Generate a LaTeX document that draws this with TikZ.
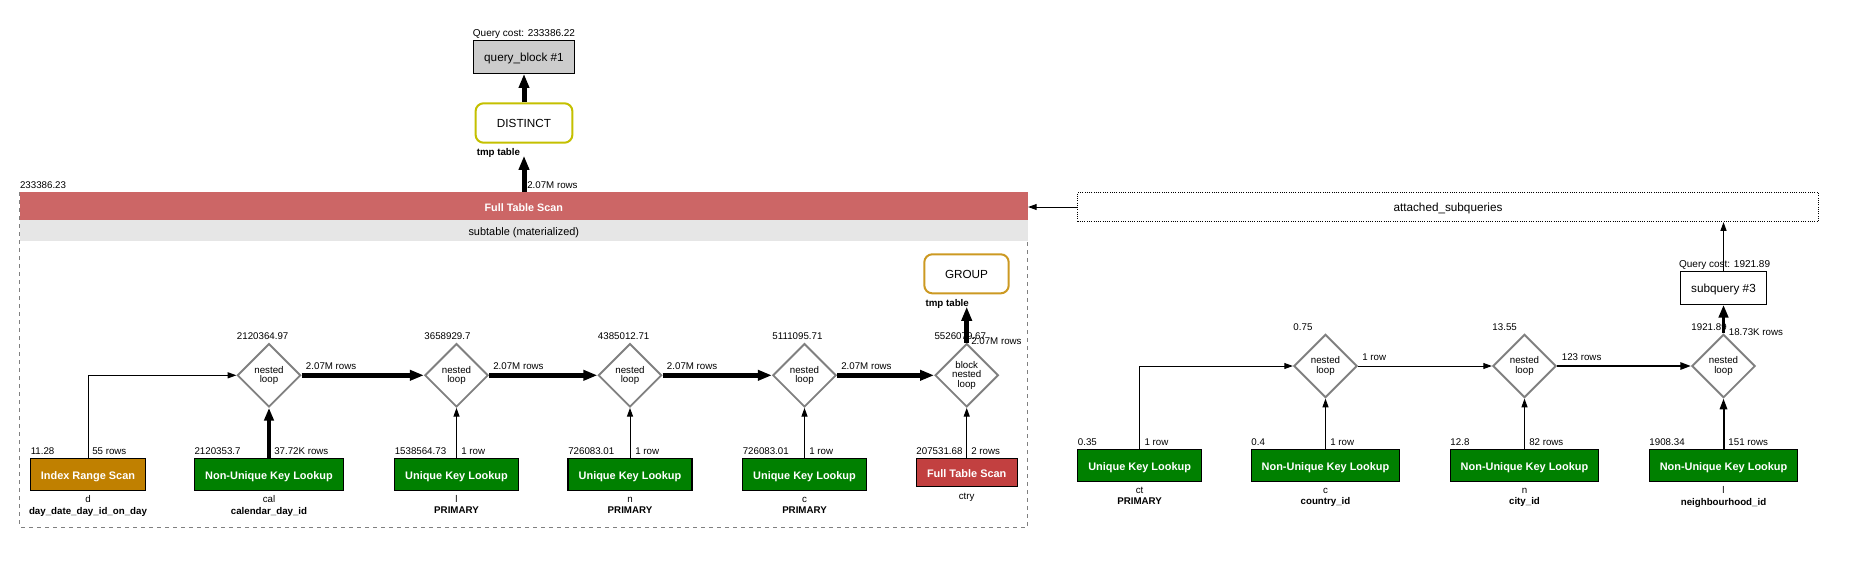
\documentclass[tikz,border=0pt]{standalone}
\usepackage{fontspec}
\setmainfont{Liberation Sans}
\usetikzlibrary{arrows.meta, shapes.geometric}
\definecolor{scanred}{HTML}{CC6666}
\definecolor{leafred}{HTML}{C24040}
\definecolor{leafgreen}{HTML}{008000}
\definecolor{rangegold}{HTML}{C08000}
\definecolor{distinctyel}{HTML}{C4C000}
\definecolor{groupgold}{HTML}{CC9922}
\definecolor{blockgray}{HTML}{CCCCCC}
\definecolor{bandgray}{HTML}{E6E6E6}
\definecolor{joingray}{HTML}{808080}

\begin{document}
\begin{tikzpicture}[x=0.75pt, y=-0.75pt,
  joinop/.style={diamond, draw=joingray, line width=1.4pt, fill=white,
                 minimum width=47.5pt, minimum height=47.5pt, inner sep=0pt,
                 align=center, font=\fontsize{7.3}{7.2}\selectfont},
  leaf/.style={draw=black, line width=0.8pt, text=white, inner sep=0pt,
               minimum height=23.7pt, text height=0.72em, text depth=0pt,
               font=\fontsize{8.2}{9.8}\selectfont\bfseries},
  opbox/.style={rounded corners=6pt, line width=1.5pt, fill=white, inner sep=0pt,
                minimum width=72.6pt, minimum height=29.6pt,
                text height=0.72em, text depth=0pt, font=\fontsize{8.8}{10.5}\selectfont},
  qblock/.style={draw=black, line width=0.8pt, inner sep=0pt, minimum height=24.5pt,
                 text height=0.72em, text depth=0pt, font=\fontsize{8.8}{10.5}\selectfont},
  lbl/.style={inner sep=0pt, text height=0.72em, text depth=0pt,
              font=\fontsize{7.3}{8.8}\selectfont},
  lblbf/.style={lbl, font=\fontsize{7.3}{8.8}\selectfont\bfseries},
  band/.style={inner sep=0pt, minimum width=756pt, text height=0.72em, text depth=0pt},
  flow/.style={line width=0.75pt, -{Triangle[length=6.5pt, width=4.5pt]}},
  flowmid/.style={line width=1.5pt, -{Triangle[length=8pt, width=5.5pt]}},
  flowheavy/.style={line width=2.7pt, -{Triangle[length=9.5pt, width=7pt]}},
  flowhuge/.style={line width=3.75pt, -{Triangle[length=10.5pt, width=7.5pt]}},
]
\useasboundingbox (0,0) rectangle (1858,587);

% main query block
\draw[joingray, dashed, line width=0.6pt] (19.8,192.3) rectangle (1027.8,527);

\node[lbl, font=\fontsize{7.5}{9}\selectfont] (qbcost) at (524,31.7) {Query cost: 233386.22};
\node[qblock, fill=blockgray, minimum width=75.8pt] (qb1) at (524,57) {query\_block \#1};
\node[opbox, draw=distinctyel] (distinct) at (524,123) {DISTINCT};
\node[lblbf, anchor=west] (tmp1) at (476.5,150.7) {tmp table};
\node[lbl, anchor=west] (rows0) at (527,183.3) {2.07M rows};
\node[lbl, anchor=west] (fcost) at (19.8,183.3) {233386.23};

\node[band, fill=scanred, minimum height=20.8pt, text=white,
      font=\fontsize{8.1}{9.7}\selectfont\bfseries] (fts) at (523.8,206.2) {Full Table Scan};
\node[band, fill=bandgray, minimum height=15.5pt,
      font=\fontsize{8.2}{9.8}\selectfont] (subt) at (523.8,230.4) {subtable (materialized)};

\node[opbox, draw=groupgold, minimum width=63.3pt, minimum height=29.3pt] (group) at (966.5,273.8) {GROUP};
\node[lblbf, anchor=west] (tmp2) at (925.3,301.7) {tmp table};

% joins
\node[joinop] (nl1) at (269,375.3) {nested\\loop};
\node[joinop] (nl2) at (456.5,375.3) {nested\\loop};
\node[joinop] (nl3) at (630,375.3) {nested\\loop};
\node[joinop] (nl4) at (804.5,375.3) {nested\\loop};
\node[joinop] (bnl) at (966.7,375.3) {block\\nested\\loop};

\node[lbl, anchor=west] at (236.7,334.3) {2120364.97};
\node[lbl, anchor=west] at (424.2,334.3) {3658929.7};
\node[lbl, anchor=west] at (597.7,334.3) {4385012.71};
\node[lbl, anchor=west] at (772.2,334.3) {5111095.71};
\node[lbl, anchor=west] at (934.3,335) {5526079.67};

\node[lbl, anchor=west] at (305.7,364.3) {2.07M rows};
\node[lbl, anchor=west] at (493,364.3) {2.07M rows};
\node[lbl, anchor=west] at (666.7,364.3) {2.07M rows};
\node[lbl, anchor=west] at (841,364.3) {2.07M rows};
\node[lbl, anchor=west] at (971,339.3) {2.07M rows};

% tables
\node[leaf, fill=rangegold, minimum width=86.3pt] (d) at (88,474.5) {Index Range Scan};
\node[leaf, fill=leafgreen, minimum width=112pt] (cal) at (269,474.5) {Non-Unique Key Lookup};
\node[leaf, fill=leafgreen, minimum width=93pt] (l) at (456.5,474.5) {Unique Key Lookup};
\node[leaf, fill=leafgreen, minimum width=93pt] (n) at (630,474.5) {Unique Key Lookup};
\node[leaf, fill=leafgreen, minimum width=93pt] (c) at (804.5,474.5) {Unique Key Lookup};
\node[leaf, fill=leafred, minimum width=75.8pt, minimum height=20.7pt] (ctry) at (966.7,472.5) {Full Table Scan};

\node[lbl, anchor=west] at (30.5,449.3) {11.28};
\node[lbl, anchor=west] at (92,449.3) {55 rows};
\node[lbl, anchor=west] at (194.3,449.3) {2120353.7};
\node[lbl, anchor=west] at (274,449.3) {37.72K rows};
\node[lbl, anchor=west] at (394.5,449.3) {1538564.73};
\node[lbl, anchor=west] at (461,449.3) {1 row};
\node[lbl, anchor=west] at (568,449.3) {726083.01};
\node[lbl, anchor=west] at (635,449.3) {1 row};
\node[lbl, anchor=west] at (742.5,449.3) {726083.01};
\node[lbl, anchor=west] at (809,449.3) {1 row};
\node[lbl, anchor=west] at (916.2,449.3) {207531.68};
\node[lbl, anchor=west] at (971,449.3) {2 rows};

\node[lbl] at (88,498) {d};
\node[lblbf] at (88,510) {day\_date\_day\_id\_on\_day};
\node[lbl] at (269,498) {cal};
\node[lblbf] at (269,510) {calendar\_day\_id};
\node[lbl] at (456.5,498) {l};
\node[lblbf] at (456.5,509) {PRIMARY};
\node[lbl] at (630,497.5) {n};
\node[lblbf] at (630,508.5) {PRIMARY};
\node[lbl] at (804.5,497.5) {c};
\node[lblbf] at (804.5,508.5) {PRIMARY};
\node[lbl] at (966.7,494.3) {ctry};

% attached subquery
\node[draw, densely dotted, line width=0.7pt, inner sep=0pt, minimum width=555.5pt,
      minimum height=22pt, text height=0.72em, text depth=0pt,
      font=\fontsize{8.8}{10.5}\selectfont] (att) at (1448,207) {attached\_subqueries};

\node[lbl, font=\fontsize{7.5}{9}\selectfont] (sqcost) at (1724.6,262.5) {Query cost: 1921.89};
\node[qblock, fill=white, minimum width=64.5pt, minimum height=25pt] (sq3) at (1723.5,287.7) {subquery \#3};

\node[joinop] (nlA) at (1325.5,366) {nested\\loop};
\node[joinop] (nlB) at (1524.5,366) {nested\\loop};
\node[joinop] (nlC) at (1723.5,366) {nested\\loop};

\node[lbl, anchor=west] at (1293.2,325.7) {0.75};
\node[lbl, anchor=west] at (1492.2,325.7) {13.55};
\node[lbl, anchor=west] at (1691.2,325.7) {1921.89};
\node[lbl, anchor=west] at (1728.6,330.3) {18.73K rows};
\node[lbl, anchor=west] at (1362,355.7) {1 row};
\node[lbl, anchor=west] at (1561.6,355.7) {123 rows};

\node[leaf, fill=leafgreen, minimum width=93pt, minimum height=24.3pt] (ct) at (1139.6,465.5) {Unique Key Lookup};
\node[leaf, fill=leafgreen, minimum width=111.5pt, minimum height=24.3pt] (c2) at (1325.5,465.5) {Non-Unique Key Lookup};
\node[leaf, fill=leafgreen, minimum width=111.5pt, minimum height=24.3pt] (n2) at (1524.5,465.5) {Non-Unique Key Lookup};
\node[leaf, fill=leafgreen, minimum width=111.5pt, minimum height=24.3pt] (l2) at (1723.5,465.5) {Non-Unique Key Lookup};

\node[lbl, anchor=west] at (1077.6,440.3) {0.35};
\node[lbl, anchor=west] at (1144.3,440.3) {1 row};
\node[lbl, anchor=west] at (1251.2,440.3) {0.4};
\node[lbl, anchor=west] at (1330,440.3) {1 row};
\node[lbl, anchor=west] at (1450.2,440.3) {12.8};
\node[lbl, anchor=west] at (1529,440.3) {82 rows};
\node[lbl, anchor=west] at (1649.2,440.3) {1908.34};
\node[lbl, anchor=west] at (1728.2,440.3) {151 rows};

\node[lbl] at (1139.6,489) {ct};
\node[lblbf] at (1139.6,500) {PRIMARY};
\node[lbl] at (1325.5,488.5) {c};
\node[lblbf] at (1325.5,500) {country\_id};
\node[lbl] at (1524.5,488.5) {n};
\node[lblbf] at (1524.5,500) {city\_id};
\node[lbl] at (1723.5,489) {l};
\node[lblbf] at (1723.5,500.5) {neighbourhood\_id};

% connectors
\draw[flowhuge] (distinct.north) -- (qb1.south);
\draw[flowhuge] (fts.north -| distinct.south) -- (distinct.south |- tmp1.south);
\draw[flow] (att.west) -- (att.west -| fts.east);

\draw[flow] (d.north) |- (nl1.west);
\draw[flowheavy] (cal.north) -- (nl1.south);
\draw[flow] (l.north) -- (nl2.south);
\draw[flow] (n.north) -- (nl3.south);
\draw[flow] (c.north) -- (nl4.south);
\draw[flow] (ctry.north) -- (bnl.south);
\draw[flowhuge] (nl1.east) -- (nl2.west);
\draw[flowhuge] (nl2.east) -- (nl3.west);
\draw[flowhuge] (nl3.east) -- (nl4.west);
\draw[flowhuge] (nl4.east) -- (bnl.west);
\draw[flowhuge] (bnl.north) -- (bnl.north |- tmp2.south);

\draw[flow] (ct.north) |- (nlA.west);
\draw[flow] (c2.north) -- (nlA.south);
\draw[flow] (nlA.east) -- (nlB.west);
\draw[flow] (n2.north) -- (nlB.south);
\draw[flowmid] (nlB.east) -- (nlC.west);
\draw[flowmid] (l2.north) -- (nlC.south);
\draw[flowheavy] (nlC.north) -- (sq3.south);
\draw[flow] (sq3.north) -- (sq3.north |- att.south);

\end{tikzpicture}
\end{document}
